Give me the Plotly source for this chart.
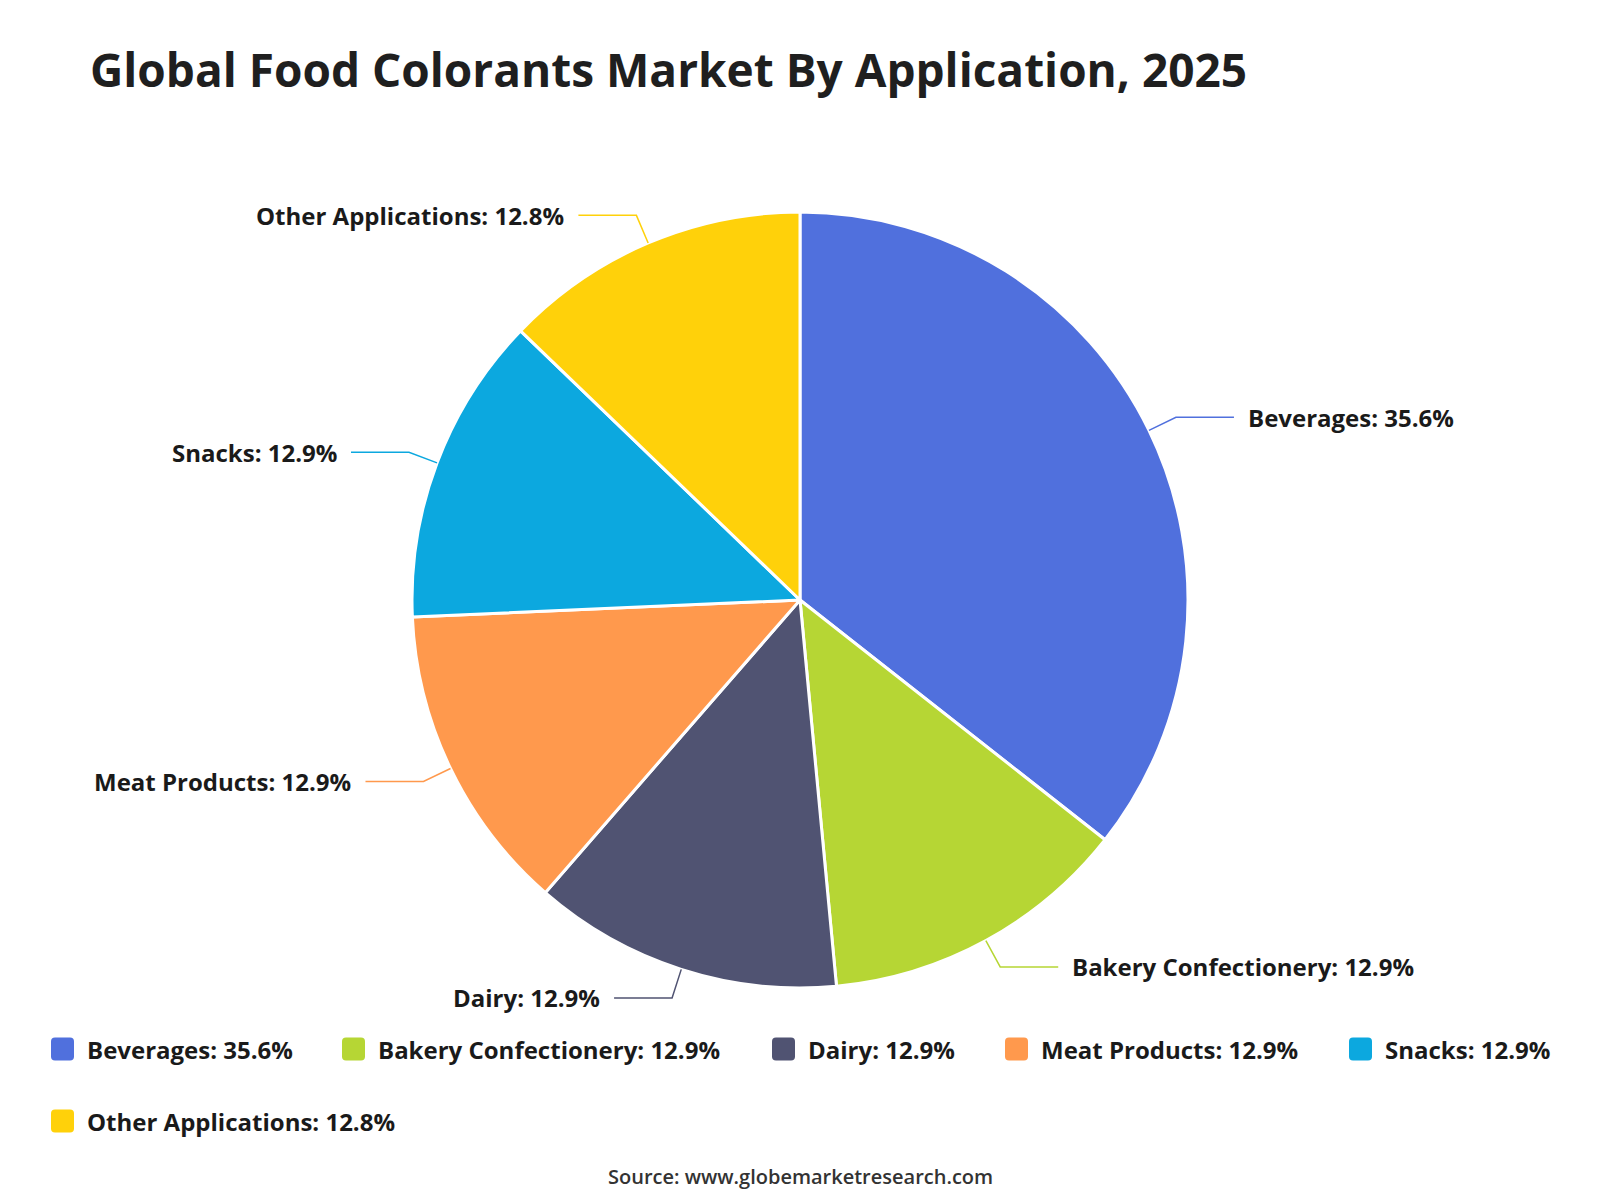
import math
import plotly.graph_objects as go

# ---- data ----
categories = ["Beverages", "Bakery Confectionery", "Dairy", "Meat Products", "Snacks", "Other Applications"]
shares = [35.6, 12.9, 12.9, 12.9, 12.9, 12.8]
colors = ["#5070dd", "#b6d634", "#505372", "#ff994d", "#0ca8df", "#ffd10a"]

title_text = "Global Food Colorants Market By Application, 2025"
source_text = "Source: www.globemarketresearch.com"

# ---- layout constants (pixels) ----
W, H = 1600, 1200
CX, CY, R = 800, 600, 388
LEN1, LEN2, GAP = 30, 58, 12
FONT = "Open Sans, Noto Sans, sans-serif"
TXT = "#1a1a1a"

def px_to_paper(x, y):
    return x / W, 1 - y / H

labels_fmt = [f"{c}: {v:.1f}%" for c, v in zip(categories, shares)]

fig = go.Figure(go.Pie(
    labels=categories,
    values=shares,
    sort=False,
    direction="clockwise",
    rotation=0,
    marker=dict(colors=colors, line=dict(color="white", width=3)),
    textinfo="none",
    hoverinfo="label+percent",
    showlegend=False,
    domain=dict(x=[(CX - R) / W, (CX + R) / W], y=[1 - (CY + R) / H, 1 - (CY - R) / H]),
))

shapes = []
annotations = []

# leader lines + labels, derived from the values
total = sum(shares)
cum = 0.0
for lab, val, col in zip(labels_fmt, shares, colors):
    mid = (cum + val / 2) / total * 2 * math.pi
    cum += val
    sx, sy = math.sin(mid), -math.cos(mid)
    p0 = (CX + R * sx, CY + R * sy)
    p1 = (CX + (R + LEN1) * sx, CY + (R + LEN1) * sy)
    side = 1 if sx >= 0 else -1
    p2 = (p1[0] + side * LEN2, p1[1])
    pts = [px_to_paper(*p) for p in (p0, p1, p2)]
    path = "M {} {} L {} {} L {} {}".format(pts[0][0], pts[0][1], pts[1][0], pts[1][1], pts[2][0], pts[2][1])
    shapes.append(dict(type="path", path=path, xref="paper", yref="paper",
                       line=dict(color=col, width=1.5), layer="above"))
    lx, ly = px_to_paper(p2[0] + side * GAP, p2[1])
    annotations.append(dict(x=lx, y=ly, xref="paper", yref="paper", text=lab, showarrow=False,
                            xanchor="left" if side > 0 else "right", yanchor="middle",
                            font=dict(family=FONT, size=24, color=TXT, weight=700)))

# custom legend
legend_pos = [(51, 1049), (342, 1049), (772, 1049), (1005, 1049), (1349, 1049), (51, 1121)]
SQ, RAD = 23, 4
for (lx, ly), lab, col in zip(legend_pos, labels_fmt, colors):
    x0, x1 = lx, lx + SQ
    y0, y1 = ly - SQ / 2, ly + SQ / 2
    pts = [
        (x0 + RAD, y0), (x1 - RAD, y0), (x1, y0), (x1, y0 + RAD), (x1, y1 - RAD), (x1, y1),
        (x1 - RAD, y1), (x0 + RAD, y1), (x0, y1), (x0, y1 - RAD), (x0, y0 + RAD), (x0, y0),
    ]
    pp = [px_to_paper(*p) for p in pts]
    path = ("M {0[0]} {0[1]} L {1[0]} {1[1]} Q {2[0]} {2[1]} {3[0]} {3[1]} L {4[0]} {4[1]} "
            "Q {5[0]} {5[1]} {6[0]} {6[1]} L {7[0]} {7[1]} Q {8[0]} {8[1]} {9[0]} {9[1]} "
            "L {10[0]} {10[1]} Q {11[0]} {11[1]} {0[0]} {0[1]} Z").format(*pp)
    shapes.append(dict(type="path", path=path, xref="paper", yref="paper",
                       fillcolor=col, line=dict(width=0)))
    tx, ty = px_to_paper(lx + 34, ly)
    annotations.append(dict(x=tx, y=ty, xref="paper", yref="paper", text=lab, showarrow=False,
                            xanchor="left", yanchor="middle",
                            font=dict(family=FONT, size=24, color=TXT, weight=700)))

sx_, sy_ = px_to_paper(800, 1176)
annotations.append(dict(x=sx_, y=sy_, xref="paper", yref="paper", text=source_text, showarrow=False,
                        xanchor="center", yanchor="middle",
                        font=dict(family=FONT, size=20, color="#333333", weight=600)))

fig.update_layout(
    width=W, height=H,
    margin=dict(l=0, r=0, t=0, b=0),
    paper_bgcolor="white", plot_bgcolor="white",
    title=dict(text=title_text, x=90 / W, xanchor="left", xref="container",
               y=1 - 71 / H, yanchor="middle", yref="container",
               font=dict(family=FONT, size=46, color="#1f1f1f", weight=700)),
    shapes=shapes,
    annotations=annotations,
)

fig.write_html("out.html")
